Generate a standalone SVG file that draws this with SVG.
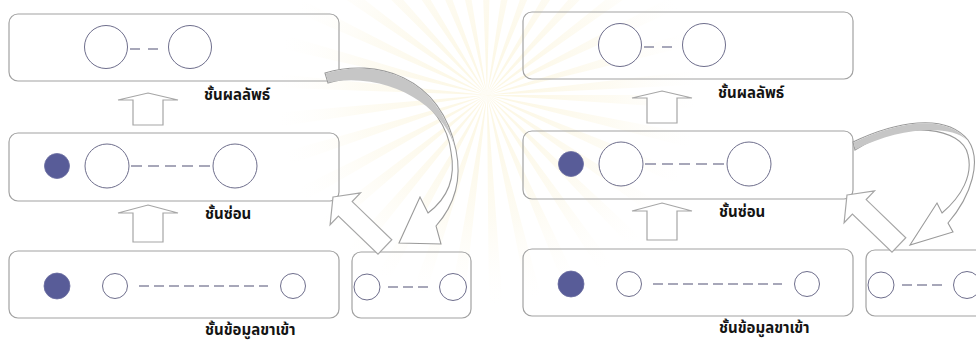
<svg xmlns="http://www.w3.org/2000/svg" width="976" height="342" viewBox="0 0 976 342">
  <defs>
    <style>
      .box { fill: none; stroke: #a2a2a2; stroke-width: 1.2; }
      .node { fill: #ffffff; stroke: #6e6e8c; stroke-width: 1; }
      .bias { fill: #585c98; stroke: #6a6ca0; stroke-width: 0.8; }
      .link { fill: none; stroke: #8a8aa2; stroke-width: 1.3; }
      .blk { fill: #ffffff; stroke: #a6a6a6; stroke-width: 1.2; stroke-linejoin: miter; }
      .curve { fill: #ffffff; stroke: #9a9a9a; stroke-width: 1.1; stroke-linejoin: miter; }
      .shade { fill: #c6c6c6; stroke: none; }
      .lbl { font-family: "Noto Sans Thai", "Noto Sans", "DejaVu Sans", sans-serif; font-size: 15px; font-weight: bold; fill: #141414; }
    </style>
    <radialGradient id="glow" gradientUnits="userSpaceOnUse" cx="487" cy="95" r="210">
      <stop offset="0" stop-color="#f6e6a8" stop-opacity="0.35"/>
      <stop offset="0.6" stop-color="#f8eec8" stop-opacity="0.22"/>
      <stop offset="1" stop-color="#fdf8ea" stop-opacity="0"/>
    </radialGradient>
    <g id="panel">
      <!-- output layer -->
      <g id="output-layer">
        <rect class="box" x="9" y="14" width="330" height="67" rx="9"/>
        <circle class="node" cx="106" cy="47" r="21.5"/>
        <circle class="node" cx="190" cy="47" r="21.5"/>
        <line class="link" x1="130" y1="49" x2="158" y2="49" stroke-dasharray="10 8"/>
      </g>
      <!-- hidden layer -->
      <g id="hidden-layer">
        <rect class="box" x="9" y="133" width="330" height="68" rx="9"/>
        <circle class="bias" cx="57" cy="166" r="12.5"/>
        <circle class="node" cx="107" cy="166" r="22"/>
        <circle class="node" cx="235" cy="166" r="22"/>
        <line class="link" x1="131" y1="166" x2="211" y2="166" stroke-dasharray="11 6"/>
      </g>
      <!-- input layer -->
      <g id="input-layer">
        <rect class="box" x="9" y="251" width="330" height="67" rx="9"/>
        <circle class="bias" cx="57" cy="286" r="13"/>
        <circle class="node" cx="115" cy="286" r="12.5"/>
        <circle class="node" cx="293" cy="286" r="12.5"/>
        <line class="link" x1="139" y1="286" x2="268" y2="286" stroke-dasharray="10 5"/>
      </g>
      <!-- context layer -->
      <g id="context-layer">
        <rect class="box" x="352" y="252" width="119" height="66" rx="9"/>
        <circle class="node" cx="367" cy="287" r="13"/>
        <circle class="node" cx="453" cy="287" r="13.5"/>
        <line class="link" x1="388" y1="287" x2="430" y2="287" stroke-dasharray="10 5"/>
      </g>
      <!-- layer labels -->
      <text class="lbl" x="204" y="100">ชั้นผลลัพธ์</text>
      <text class="lbl" x="205" y="219">ชั้นซ่อน</text>
      <text class="lbl" x="205" y="335">ชั้นข้อมูลขาเข้า</text>
      <!-- block arrows between the layers -->
      <g id="flow">
        <polygon class="blk" points="148,93 178,100 163,100 163,125 133,125 133,100 118,100"/>
        <polygon class="blk" points="148,205 178,213 163,213 163,242 133,242 133,213 118,213"/>
        <polygon class="blk" points="333,197 360.5,192.9 352.2,201.6 391.8,239.7 378,254.1 338.4,216 330.1,224.7"/>
      </g>
    </g>
  </defs>

  <rect width="976" height="342" fill="#ffffff"/>

  <!-- faint emblem rays in the background -->
  <g id="backdrop">
    <circle cx="487" cy="95" r="105" fill="none" stroke="url(#glow)" stroke-width="210" stroke-dasharray="7 12.6"/>
  </g>

  <!-- left network -->
  <use href="#panel"/>
  <!-- right network -->
  <use href="#panel" transform="translate(514,-2)"/>

  <g id="connectors">
    <!-- left: feedback from the output layer to the context layer -->
    <path class="curve" d="M 325 73 C 375 58, 440 75, 456 150 C 463 184, 452 208, 436 226 L 441 244 L 399 243 L 420 197 L 428 213 C 448 198, 456 178, 451 152 C 445 100, 385 65, 328 83 Z"/>
    <path class="shade" d="M 325.6 73.6 C 375 58.6, 439.5 75.6, 455.4 150 C 446 108, 390 71, 328.4 82.4 Z"/>
    <!-- right: feedback from the hidden layer to the context layer -->
    <path class="curve" d="M 853 142 C 895 122, 945 112, 968 140 C 982 160, 972 195, 948 223 L 953 232 L 910 245 L 937 203 L 942 213 C 962 196, 973 175, 968 155 C 963 128, 905 118, 855 150 Z"/>
    <path class="shade" d="M 853.6 142.6 C 895 122.6, 944.6 112.6, 967.4 140.4 C 950 124, 900 127, 855.4 149.4 Z"/>
  </g>
</svg>
